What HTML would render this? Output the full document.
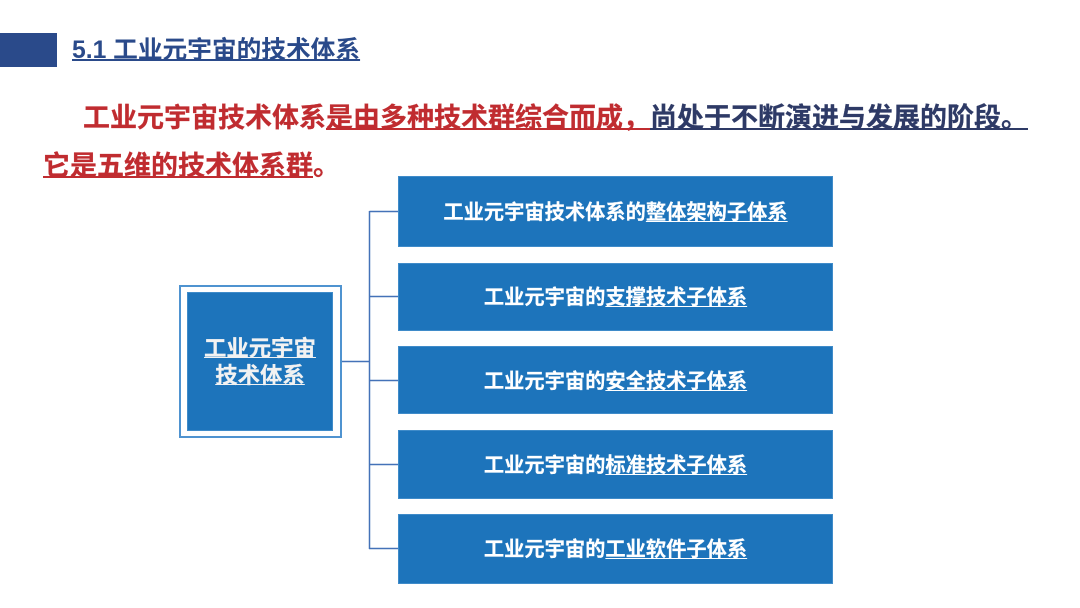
<!DOCTYPE html>
<html lang="zh">
<head>
<meta charset="utf-8">
<style>
html,body{margin:0;padding:0;background:#fff}
#p{position:relative;width:1080px;height:608px;overflow:hidden;background:#fff;font-family:"Liberation Sans","Noto Sans CJK SC",sans-serif;font-weight:700}
#p div{position:absolute;box-sizing:border-box}
.t{white-space:nowrap;line-height:1}
.b{background:#1d74bb;left:398px;width:435px;box-shadow:inset 0 0 0 1px #3f8bc9}
.c{left:398px;width:435px;text-align:center;color:#fff;font-size:20.25px;line-height:1;white-space:nowrap;-webkit-text-stroke:.2px #fff}
.c u{text-decoration-thickness:1px;text-underline-offset:2px}
u{text-decoration-skip-ink:none}
</style>
</head>
<body>
<div id="p">
<div style="left:0;top:33px;width:57px;height:34px;background:#2a4a8a"></div>
<div class="t" style="left:72px;top:39px;font-size:24.7px;color:#2a4a8a"><u style="text-decoration-thickness:1.5px;text-underline-offset:1px">5.1 工业元宇宙的技术体系</u></div>

<div class="t" style="left:83px;top:105px;font-size:27px;color:#c02c30;-webkit-text-stroke:.25px #c02c30">工业元宇宙技术体系<u style="text-decoration-thickness:1.5px;text-underline-offset:1px">是由多种技术群综合而成，</u><u style="color:#2e3a66;-webkit-text-stroke:.25px #2e3a66;text-decoration-thickness:1.5px;text-underline-offset:1px">尚处于不断演进与发展的阶段。</u></div>
<div class="t" style="left:43px;top:153px;font-size:27px;color:#c02c30;-webkit-text-stroke:.25px #c02c30"><u style="text-decoration-thickness:1.5px;text-underline-offset:1px">它是五维的技术体系群</u>。</div>

<svg style="position:absolute;left:0;top:0" width="1080" height="608">
<g stroke="#4472b8" stroke-width="1.5" fill="none">
<path d="M369.5 211V549"/>
<path d="M369.5 211.5H398M369.5 296.5H398M369.5 380.5H398M369.5 464.5H398M369 548.5H398M342 361.5H369.5"/>
</g>
</svg>

<div style="left:179px;top:285px;width:163px;height:153px;border:2px solid #4f93d0;background:#fff"></div>
<div style="left:187px;top:292px;width:146px;height:139px;background:#1d74bb;box-shadow:inset 0 0 0 1px #3f8bc9"></div>
<div class="t" style="left:187px;top:338px;width:146px;text-align:center;font-size:22.4px;color:#f2f2f2;-webkit-text-stroke:.2px #f2f2f2"><u style="text-decoration-thickness:1px;text-underline-offset:1px">工业元宇宙</u></div>
<div class="t" style="left:187px;top:365px;width:146px;text-align:center;font-size:22.4px;color:#f2f2f2;-webkit-text-stroke:.2px #f2f2f2"><u style="text-decoration-thickness:1px;text-underline-offset:1px">技术体系</u></div>

<div class="b" style="top:176px;height:71px"></div>
<div class="b" style="top:263px;height:68px"></div>
<div class="b" style="top:346px;height:68px"></div>
<div class="b" style="top:430px;height:69px"></div>
<div class="b" style="top:514px;height:70px"></div>

<div class="c" style="top:203px">工业元宇宙技术体系的<u>整体架构子体系</u></div>
<div class="c" style="top:288px">工业元宇宙的<u>支撑技术子体系</u></div>
<div class="c" style="top:372px">工业元宇宙的<u>安全技术子体系</u></div>
<div class="c" style="top:456px">工业元宇宙的<u>标准技术子体系</u></div>
<div class="c" style="top:540px">工业元宇宙的<u>工业软件子体系</u></div>
</div>
</body>
</html>
